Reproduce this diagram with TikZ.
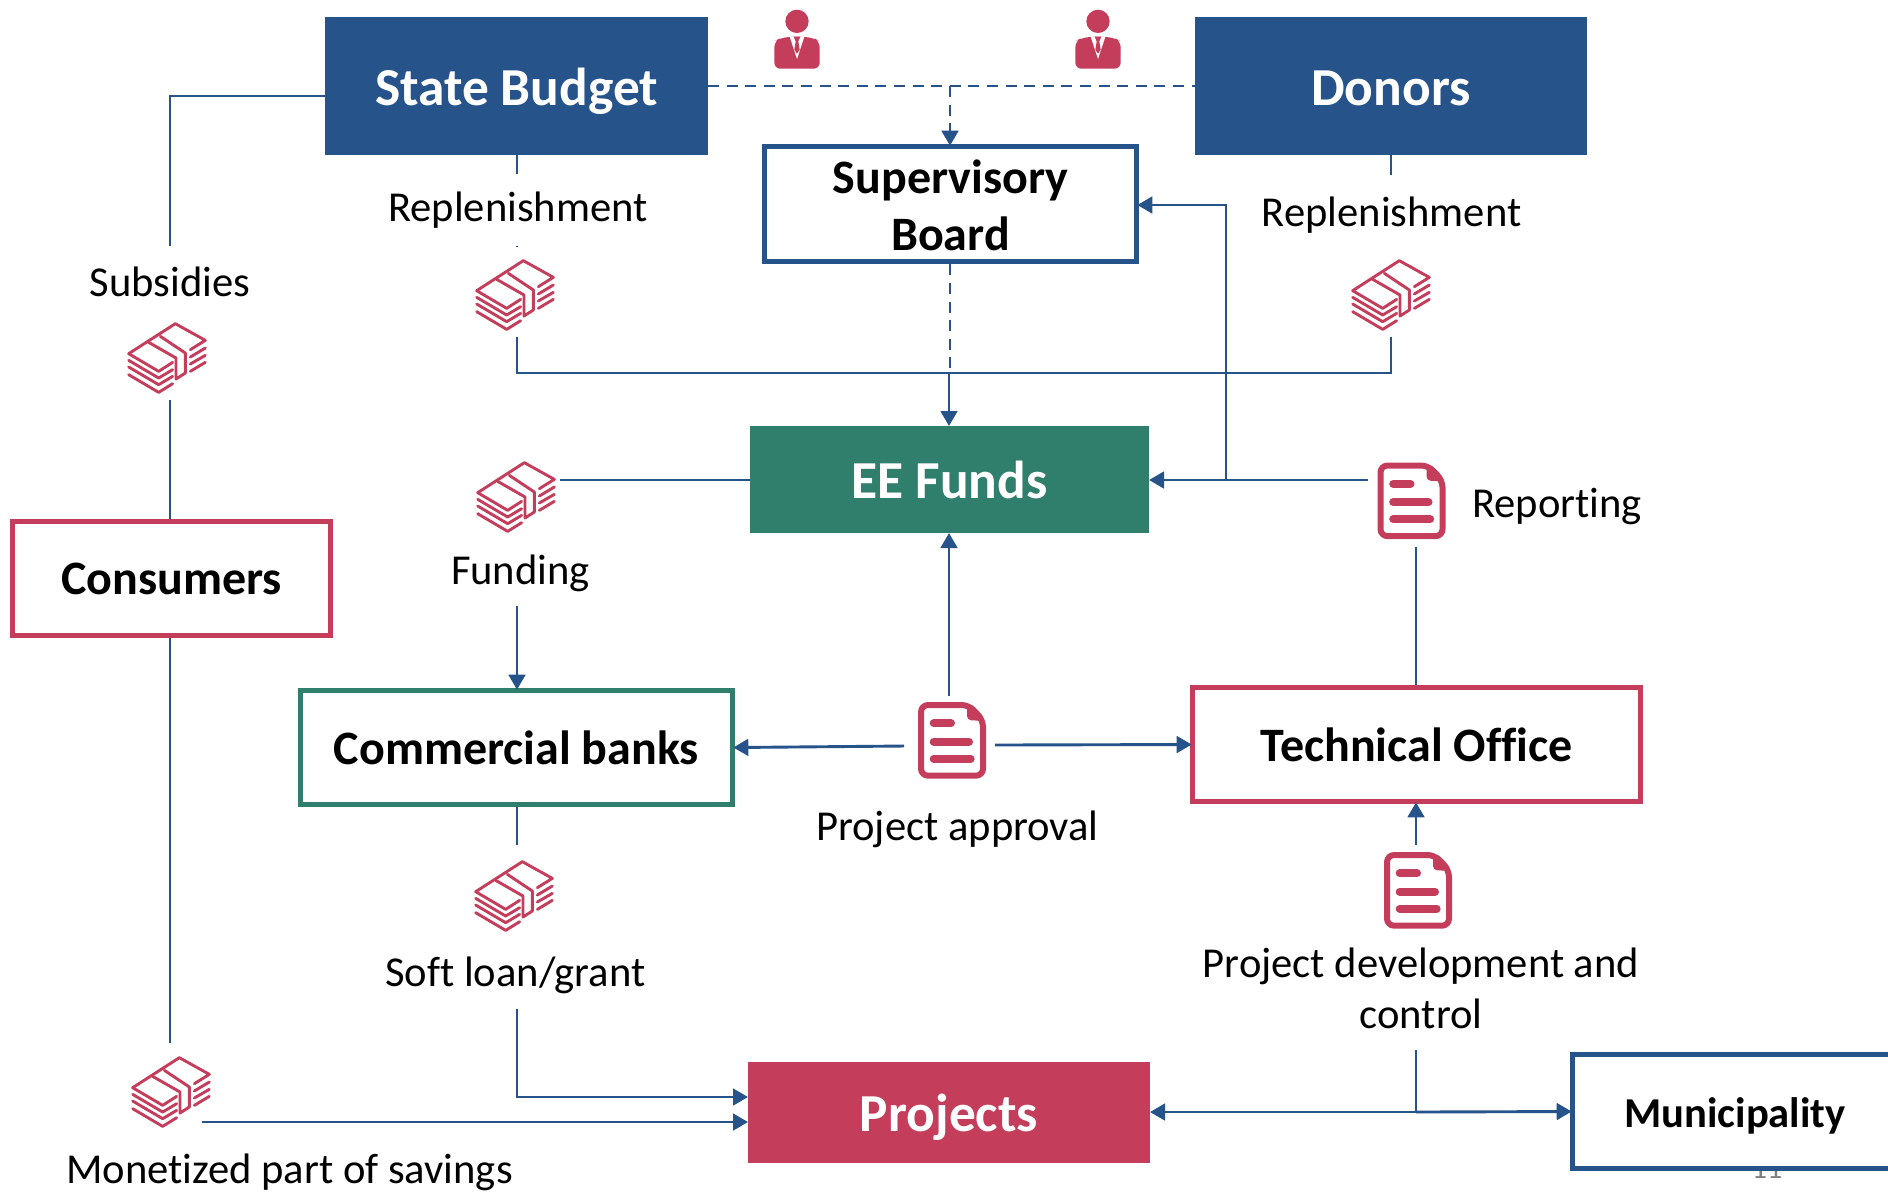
\documentclass[tikz,border=0pt]{standalone}
\usepackage{fontspec}
\setmainfont{Carlito}[RawFeature={-liga;-clig;-dlig}]
\usetikzlibrary{arrows.meta}
\definecolor{navy}{HTML}{25538A}
\definecolor{crim}{HTML}{C43E5B}
\definecolor{teal2}{HTML}{2F7F6C}
\tikzset{
  solidbox/.style={draw=none,fill=#1,text=white,font=\fontsize{26.7}{30}\selectfont\bfseries,inner sep=0pt,outer sep=0pt,align=center,text height=19pt,text depth=0pt},
  framebox/.style={draw=#1,fill=white,line width=2.8pt,text=black,font=\fontsize{24}{28.5}\selectfont\bfseries,inner sep=0pt,align=center},
  oneline/.style={text height=17pt,text depth=0pt},
  lab/.style={text=black,font=\fontsize{21.3}{25.5}\selectfont,inner sep=0pt,align=center},
  conn/.style={draw=navy,line width=1.45pt},
  arr/.style={conn,-{Triangle[length=7.5pt,width=8.3pt]}},
  intoframe/.style={arr,shorten >=-1pt},
  dash2/.style={dash pattern=on 5.5pt off 3.8pt},
  money/.pic={
    \begin{scope}[x=0.16667pt,y=-0.16667pt,shift={(-195,-165)},draw=crim,line width=1.45pt,line join=round,line cap=round]
      \draw (80,152)--(220,62)--(310,112)--(265,140);
      \draw (80,152)--(170,205)--(212,178);
      \draw (140,118)--(222,165)--(222,228)--(250,210)--(250,150)--(175,100);
      \draw (80,172)--(170,225)--(212,200);
      \draw (80,192)--(170,245)--(212,220);
      \draw (80,215)--(170,268)--(212,242);
      \draw (265,162)--(310,135);
      \draw (265,183)--(310,157);
      \draw (265,205)--(310,178);
    \end{scope}
  },
  docicon/.pic={
    \begin{scope}[x=0.16667pt,y=-0.16667pt,shift={(-185,-182)},line join=round]
      \draw[crim,line width=3pt,rounded corners=3.5pt] (92,77)--(235,77)--(278,122)--(278,289)--(92,289)--cycle;
      \fill[crim,rounded corners=2pt] (230,72)--(230,122)--(283,125)--cycle;
      \draw[crim,line width=4pt,line cap=round] (130,132)--(182,132);
      \draw[crim,line width=4pt,line cap=round] (130,187)--(236,187);
      \draw[crim,line width=4pt,line cap=round] (130,238)--(241,238);
    \end{scope}
  },
  personicon/.pic={
    \begin{scope}[x=0.16667pt,y=-0.16667pt,shift={(-170,-118)}]
      \fill[crim] (170,65) circle[radius=35];
      \fill[crim,rounded corners=3pt] (102,207)--(102,125)--(118,116)--(150,111)--(190,111)--(222,116)--(238,125)--(238,207)--cycle;
      \fill[white] (148,111)--(170,178)--(192,111)--cycle;
      \fill[crim] (160,111)--(180,111)--(174,125)--(178,150)--(170,162)--(162,150)--(166,125)--cycle;
    \end{scope}
  }
}
\begin{document}
\begin{tikzpicture}[x=0.5pt,y=-0.5pt]
\useasboundingbox (0,0) rectangle (1888,1191);
\clip (0,0) rectangle (1888,1191);

% page number, half hidden by the Municipality box
\node[text=gray,font=\fontsize{15}{18}\selectfont,inner sep=0pt,anchor=base] (pageno) at (1767,1178) {11};

% boxes
\node[solidbox=navy,minimum width=191.5pt,minimum height=69pt] (sb) at (516.5,86) {State Budget};
\node[solidbox=navy,minimum width=196pt,minimum height=69pt] (don) at (1391,86) {Donors};
\node[framebox=navy,minimum width=186pt,minimum height=57.5pt] (sup) at (950.5,204) {\rule{0pt}{18.3pt}Supervisory\\Board};
\node[solidbox=teal2,minimum width=199.5pt,minimum height=53.5pt] (ee) at (949.5,479.5) {EE Funds};
\node[framebox=crim,oneline,text height=16pt,minimum width=159pt,minimum height=57pt] (cons) at (171.5,578.5) {Consumers};
\node[framebox=teal2,oneline,minimum width=216pt,minimum height=57pt] (cb) at (516.5,747.5) {Commercial banks};
\node[framebox=crim,oneline,minimum width=224pt,minimum height=57pt] (to) at (1416.5,744.5) {Technical Office};
\node[solidbox=crim,minimum width=201pt,minimum height=50.5pt] (proj) at (949,1112.5) {Projects};
\node[framebox=navy,oneline,text height=16pt,font=\fontsize{21.3}{26}\selectfont\bfseries,minimum width=162.5pt,minimum height=57pt] (mun) at (1735,1111.5) {Municipality};

% icons (as named coordinates)
\coordinate (m1) at (515,295);
\coordinate (m2) at (1391,295);
\coordinate (m3) at (167,358);
\coordinate (m4) at (516,497);
\coordinate (m5) at (514,896);
\coordinate (m6) at (171,1092);
\coordinate (d1) at (1411.5,500.5);
\coordinate (d2) at (952,740);
\coordinate (d3) at (1418,890);
\foreach \m in {m1,m2,m3,m4,m5,m6} \pic at (\m) {money};
\foreach \d in {d1,d2,d3} \pic at (\d) {docicon};
\pic at (797,39) {personicon};
\pic at (1098,39) {personicon};

% free connector ends
\coordinate (subTop) at (170,96);
\coordinate (subEnd) at (170,246);
\coordinate (subBelow) at (170,400);
\coordinate (conBelow) at (170,1043);
\coordinate (savStart) at (202,1122);
\coordinate (repL) at (517,247);
\coordinate (repLb) at (517,337);
\coordinate (repR) at (1391,175);
\coordinate (repRb) at (1391,337);
\coordinate (join) at (950,86);
\coordinate (mid) at (949,373);
\coordinate (repJoin) at (1226,480);
\coordinate (supIn) at (1226,205);
\coordinate (docL) at (1368,480);
\coordinate (docB) at (1416,547);
\coordinate (fundL) at (560,480);
\coordinate (fundB) at (517,606);
\coordinate (apL) at (904,746);
\coordinate (apR) at (995,745);
\coordinate (apT) at (949,696);
\coordinate (cbB) at (517,845);
\coordinate (softB) at (517,1009);
\coordinate (softE) at (517,1097);
\coordinate (devT) at (1416,845);
\coordinate (devB) at (1416,1050);
\coordinate (devJ) at (1416,1112);

% connectors
\draw[conn] (sb.west |- subTop) -- (subTop) -- (subEnd);
\draw[conn] (subBelow) -- (subBelow |- cons.north);
\draw[conn] (conBelow |- cons.south) -- (conBelow);
\draw[arr] (savStart) -- (savStart -| proj.west);
\draw[conn] (sb.south -| repL) -- (repL);
\draw[conn] (don.south -| repR) -- (repR);
\draw[conn] (repLb) |- (mid) -| (repRb);
\draw[conn,dash2] (sb.east |- join) -- (don.west |- join);
\draw[intoframe,dash2] (join) -- (join |- sup.north);
\draw[conn,dash2] (join |- sup.south) -- (join |- mid);
\draw[arr] (mid) -- (mid |- ee.north);
\draw[arr] (docL) -- (docL -| ee.east);
\draw[intoframe] (repJoin) -- (supIn) -- (supIn -| sup.east);
\draw[conn] (docB) -- (docB |- to.north);
\draw[conn] (fundL) -- (fundL -| ee.west);
\draw[intoframe] (fundB) -- (fundB |- cb.north);
\draw[intoframe] (apL) -- (cb.east);
\draw[intoframe] (apR) -- (to.west);
\draw[arr] (apT) -- (apT |- ee.south);
\draw[conn] (cbB |- cb.south) -- (cbB);
\draw[arr] (softB) -- (softE) -- (softE -| proj.west);
\draw[intoframe] (devT) -- (devT |- to.south);
\draw[conn] (devB) -- (devJ);
\draw[arr] (devJ) -- (devJ -| proj.east);
\draw[intoframe] (devJ) -- (mun.west);

% labels
\node[lab,fill=white,minimum height=36pt] (lrepl) at (518,210) {Replenishment};
\node[lab] (lrepr) at (1391.5,215) {Replenishment};
\node[lab] (lsub) at (170,282) {Subsidies};
\node[lab] (lfund) at (520.5,573) {Funding};
\node[lab] (lrep) at (1557,506) {Reporting};
\node[lab] (lapp) at (957.5,829) {Project approval};
\node[lab] (lsoft) at (515.5,975) {Soft loan/grant};
\node[lab] (ldev) at (1421,988) {Project development and\\control};
\node[lab] (lsav) at (289.5,1172) {Monetized part of savings};
\end{tikzpicture}
\end{document}
